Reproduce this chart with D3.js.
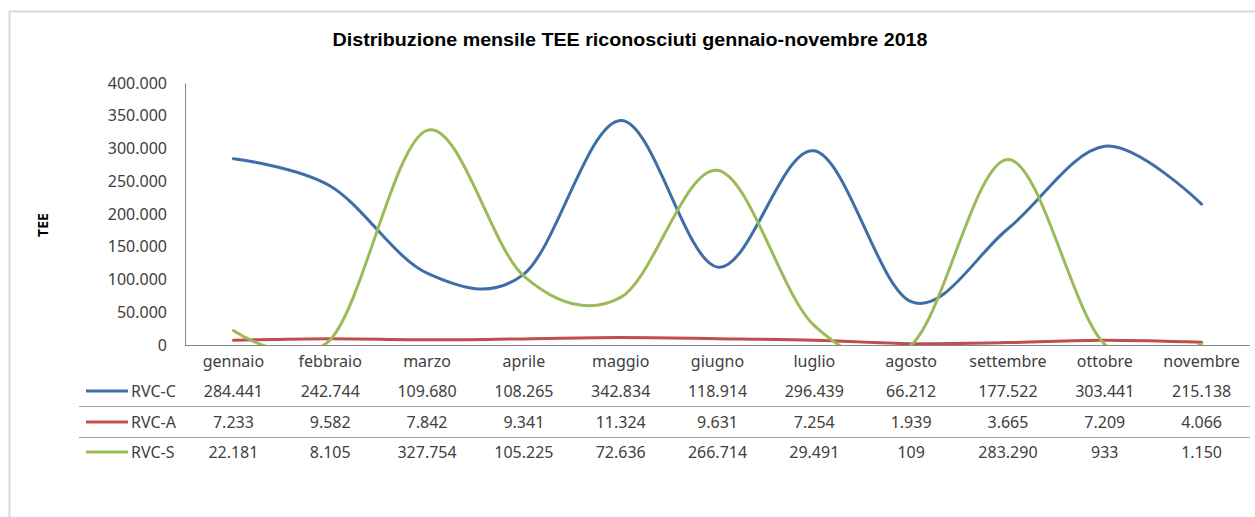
<!DOCTYPE HTML>
<html lang="it">
<head>
  <meta charset="utf-8">
  <title>Distribuzione mensile TEE</title>
  <script src="https://d3js.org/d3.v7.min.js"></script>
  <style>
    body { margin: 0; background: #fff; }
    text { font-family: "Noto Sans", sans-serif; fill: #404040; }
  </style>
</head>
<body>
<div id="stage"></div>
<script>
  var months = ["gennaio", "febbraio", "marzo", "aprile", "maggio", "giugno", "luglio", "agosto", "settembre", "ottobre", "novembre"];
  var rvcC = [284441, 242744, 109680, 108265, 342834, 118914, 296439, 66212, 177522, 303441, 215138];
  var rvcA = [7233, 9582, 7842, 9341, 11324, 9631, 7254, 1939, 3665, 7209, 4066];
  var rvcS = [22181, 8105, 327754, 105225, 72636, 266714, 29491, 109, 283290, 933, 1150];
  var yTicks = [0, 50000, 100000, 150000, 200000, 250000, 300000, 350000, 400000];

  var series = [
    { name: "RVC-C", values: rvcC, color: "#3d6ea8" },
    { name: "RVC-A", values: rvcA, color: "#c0504d" },
    { name: "RVC-S", values: rvcS, color: "#9bbb59" }
  ];

  var it = d3.formatLocale({ decimal: ",", thousands: ".", grouping: [3], currency: ["", " €"] });
  var fmt = it.format(",d");

  var svg = d3.select("#stage").append("svg").attr("width", 1255).attr("height", 517);

  // chart frame
  svg.append("rect").attr("x", 9.5).attr("y", 11.5).attr("width", 1260).attr("height", 520)
    .style("fill", "none").style("stroke", "#d9d9d9").style("stroke-width", 2);

  svg.append("text").attr("x", 630).attr("y", 46).attr("text-anchor", "middle")
    .attr("textLength", 595).attr("lengthAdjust", "spacingAndGlyphs")
    .style("font-family", "'Liberation Sans Narrow', 'Liberation Sans', Arial, sans-serif").style("font-weight", "bold")
    .style("font-size", "18px").style("fill", "#000")
    .text("Distribuzione mensile TEE riconosciuti gennaio-novembre 2018");

  var plotL = 185, plotR = 1250, plotT = 83, plotB = 345;
  var x = d3.scaleBand().domain(months).range([plotL, plotR]);
  var y = d3.scaleLinear().domain([0, 400000]).range([plotB, plotT]);

  // y axis
  var yAxis = svg.append("g").attr("transform", "translate(" + plotL + ",0)")
    .call(d3.axisLeft(y).tickValues(yTicks).tickFormat(fmt).tickSize(0).tickPadding(18));
  yAxis.select(".domain").style("stroke", "#868686");
  yAxis.selectAll("text").style("font-family", "'Noto Sans', sans-serif").style("font-size", "16px").style("fill", "#404040");

  // x axis line
  svg.append("line").attr("x1", plotL).attr("x2", plotR).attr("y1", plotB + 0.5).attr("y2", plotB + 0.5)
    .style("stroke", "#868686");

  svg.append("text").attr("transform", "translate(48,225) rotate(-90)").attr("text-anchor", "middle")
    .style("font-weight", "bold").style("font-size", "14px").style("fill", "#000").text("TEE");

  // lines
  svg.append("clipPath").attr("id", "plot").append("rect")
    .attr("x", plotL).attr("y", plotT - 10).attr("width", plotR - plotL).attr("height", plotB - plotT + 10);

  var line = d3.line()
    .x(function (d, i) { return x(months[i]) + x.bandwidth() / 2; })
    .y(function (d) { return y(d); })
    .curve(d3.curveCardinal.tension(0));

  svg.append("g").attr("clip-path", "url(#plot)").selectAll("path").data(series).enter().append("path")
    .attr("d", function (s) { return line(s.values); })
    .style("fill", "none").style("stroke", function (s) { return s.color; })
    .style("stroke-width", 3).style("stroke-linecap", "round");

  // data table
  svg.selectAll(".cat").data(months).enter().append("text")
    .attr("x", function (d) { return x(d) + x.bandwidth() / 2; }).attr("y", 367)
    .attr("text-anchor", "middle").style("font-size", "16px").text(function (d) { return d; });

  var rowY = [391, 422, 452];
  [406, 437].forEach(function (ly) {
    svg.append("line").attr("x1", 79).attr("x2", plotR).attr("y1", ly + 0.5).attr("y2", ly + 0.5)
      .style("stroke", "#a6a6a6");
  });

  series.forEach(function (s, r) {
    var g = svg.append("g");
    g.append("line").attr("x1", 86).attr("x2", 128).attr("y1", rowY[r]).attr("y2", rowY[r])
      .style("stroke", s.color).style("stroke-width", 3);
    g.append("text").attr("x", 131).attr("y", rowY[r] + 6).style("font-size", "16px").text(s.name);
    g.selectAll(".v").data(s.values).enter().append("text")
      .attr("x", function (d, i) { return x(months[i]) + x.bandwidth() / 2; })
      .attr("y", rowY[r] + 6).attr("text-anchor", "middle").style("font-size", "16px")
      .text(function (d) { return fmt(d); });
  });
</script>
</body>
</html>
